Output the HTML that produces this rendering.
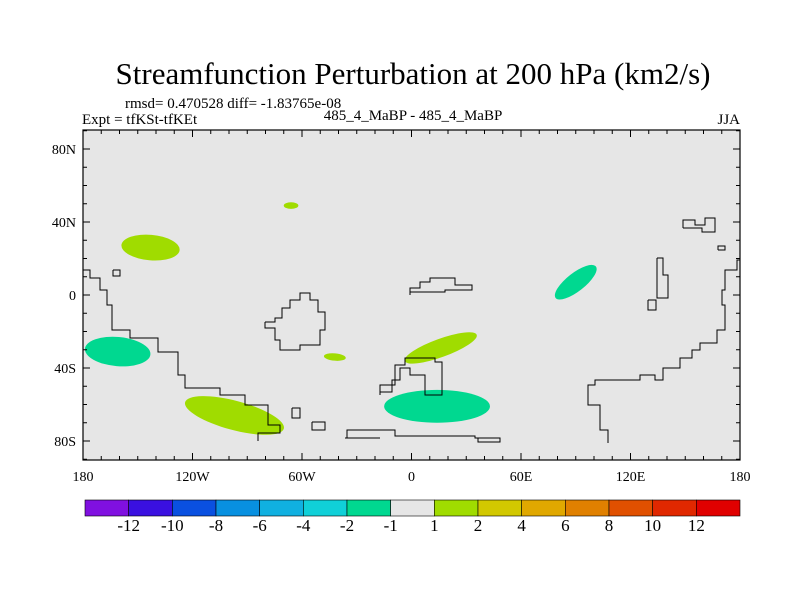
<!DOCTYPE html>
<html><head><meta charset="utf-8"><style>
body{margin:0;background:#fff;font-family:"Liberation Serif",serif}
</style></head><body>
<svg width="800" height="600" viewBox="0 0 800 600" id="svg">
<rect width="800" height="600" fill="#fff"/>
<text x="413" y="84" font-size="31" text-anchor="middle">Streamfunction Perturbation at 200 hPa (km2/s)</text>
<text x="125" y="108" font-size="15">rmsd= 0.470528 diff= -1.83765e-08</text>
<text x="82" y="124" font-size="15">Expt = tfKSt-tfKEt</text>
<text x="413" y="120" font-size="15" text-anchor="middle">485_4_MaBP - 485_4_MaBP</text>
<text x="740" y="124" font-size="15" text-anchor="end">JJA</text>
<rect x="83" y="130" width="657" height="330" fill="#e6e6e6"/>
<g id="blobs"></g>
<g fill="none" stroke="#000" stroke-width="1">
<polyline points="83,270 90,270 90,278 100,278 100,290 107,290 107,305 112,305 112,330 130,330 130,338 158,338 158,352 178,352 178,375 185,375 185,388 220,388 220,395 245,395 245,405 268,405 268,425 280,425 280,433 258,433 258,441"/>
<polyline points="265,322 275,322 275,318 282,318 282,308 290,308 290,300 300,300 300,293 310,293 310,300 318,300 318,312 325,312 325,330 320,330 320,345 300,345 300,350 280,350 280,340 275,340 275,328 265,328 265,322"/>
<polyline points="410,295 410,288 420,288 420,282 430,282 430,278 455,278 455,285 472,285 472,290 445,290 445,292 410,292"/>
<polyline points="380,395 380,385 395,385 395,365 405,365 405,358 435,358 435,362 442,362 442,395 425,395 425,375 410,375 410,368 400,368 400,380 392,380 392,392 380,392"/>
<polyline points="347,438 347,430 395,430 395,436 475,436 475,438 500,438 500,442 478,442 478,438"/>
<polyline points="345,438 380,438"/>
<polyline points="292,408 300,408 300,418 292,418 292,408"/>
<polyline points="312,422 325,422 325,430 312,430 312,422"/>
<polyline points="608,443 608,430 600,430 600,405 588,405 588,385 595,385 595,380 640,380 640,375 655,375 655,380 663,380 663,368 680,368 680,358 692,358 692,350 700,350 700,343 717,343 717,330 725,330 725,305 722,305 722,290 725,290 725,270 737,270 737,260 740,260"/>
<polyline points="683,228 683,220 695,220 695,225 705,225 705,218 715,218 715,232 702,232 702,228 683,228"/>
<polyline points="718,250 725,250 725,246 718,246 718,250"/>
<polyline points="657,258 663,258 663,275 668,275 668,298 657,298 657,258"/>
<polyline points="648,300 656,300 656,310 648,310 648,300"/>
<polyline points="260,460 340,460"/>
<polyline points="113,270 120,270 120,276 113,276 113,270"/>
</g>
<rect x="83" y="130" width="657" height="330" fill="none" stroke="#000" stroke-width="1.2"/>
<g id="axes"></g>
<g id="cbar"></g>
</svg>
<script>
const lonTicks=[-180,-120,-60,0,60,120,180];
const lonLabels=["180","120W","60W","0","60E","120E","180"];
const latTicks=[80,40,0,-40,-80];
const latLabels=["80N","40N","0","40S","80S"];
// blobs: center lon, lat, half-width (deg), half-height (deg), rotation(deg)
const blobLon=[-143,-66,-161,-97,-42,14,16,90];
const blobLat=[26,49,-31,-66,-34,-61,-29,7];
const blobRx=[16,4,18,28,6,29,21,14];
const blobRy=[7,1.8,8,8,2,9,5,5];
const blobRot=[5,0,5,15,5,0,-20,-38];
const blobVal=[1.5,1.5,-1.5,1.5,1.5,-1.5,1.5,-1.5];
const levels=[-12,-10,-8,-6,-4,-2,-1,1,2,4,6,8,10,12];
const colors=["#8010e0","#3a10e0","#0a50e0","#0890e0","#10b0e0","#10d0d8","#00d890","#e6e6e6","#a0dc00","#d2c800","#e0a800","#e08000","#e05000","#e02800","#e00000"];
const NS="http://www.w3.org/2000/svg";
const X=l=>83+(l+180)*657/360;
const Y=t=>295-t*1.825;
function colorFor(v){let i=0;while(i<levels.length&&v>levels[i])i++;return colors[i];}
const bg=document.getElementById('blobs');
for(let i=0;i<blobLon.length;i++){
 const e=document.createElementNS(NS,'ellipse');
 
 
 const cx=X(blobLon[i]),cy=Y(blobLat[i]);
 e.setAttribute('cx',cx);e.setAttribute('cy',cy);
 e.setAttribute('rx',blobRx[i]*657/360);e.setAttribute('ry',blobRy[i]*1.825);
 e.setAttribute('transform',`rotate(${blobRot[i]} ${cx} ${cy})`);
 e.setAttribute('fill',colorFor(blobVal[i]));
 bg.appendChild(e);
}
const ax=document.getElementById('axes');
function add(tag,attrs,txt,par){const e=document.createElementNS(NS,tag);for(const k in attrs)e.setAttribute(k,attrs[k]);if(txt!==undefined)e.textContent=txt;(par||ax).appendChild(e);return e;}
for(let l=-180;l<=180;l+=10){const x=X(l);const big=l%60===0;
 const t1=add('line',{x1:x,x2:x,y1:460,y2:460-(big?7:4),stroke:'#000'});
 const t2=add('line',{x1:x,x2:x,y1:130,y2:130+(big?7:4),stroke:'#000'});}
for(let t=-90;t<=90;t+=10){const y=Y(t);const big=t%40===0;
 const t1=add('line',{x1:83,x2:83+(big?7:4),y1:y,y2:y,stroke:'#000'});
 const t2=add('line',{x1:740,x2:740-(big?7:4),y1:y,y2:y,stroke:'#000'});}
lonTicks.forEach((l,i)=>{const t=add('text',{x:X(l),y:481,'font-size':14,'text-anchor':'middle'},lonLabels[i]);
 });
latTicks.forEach((l,i)=>{const t=add('text',{x:76,y:Y(l)+5,'font-size':14,'text-anchor':'end'},latLabels[i]);
 });
const cb=document.getElementById('cbar');
const bw=(740-85)/colors.length;
colors.forEach((c,i)=>{const r=add('rect',{x:85+i*bw,y:500,width:bw,height:16,fill:c,stroke:'#000','stroke-width':0.6},undefined,cb);
 });
levels.forEach((v,i)=>{const t=add('text',{x:85+(i+1)*bw,y:531,'font-size':17,'text-anchor':'middle'},String(v),cb);
 });
</script>
</body></html>
